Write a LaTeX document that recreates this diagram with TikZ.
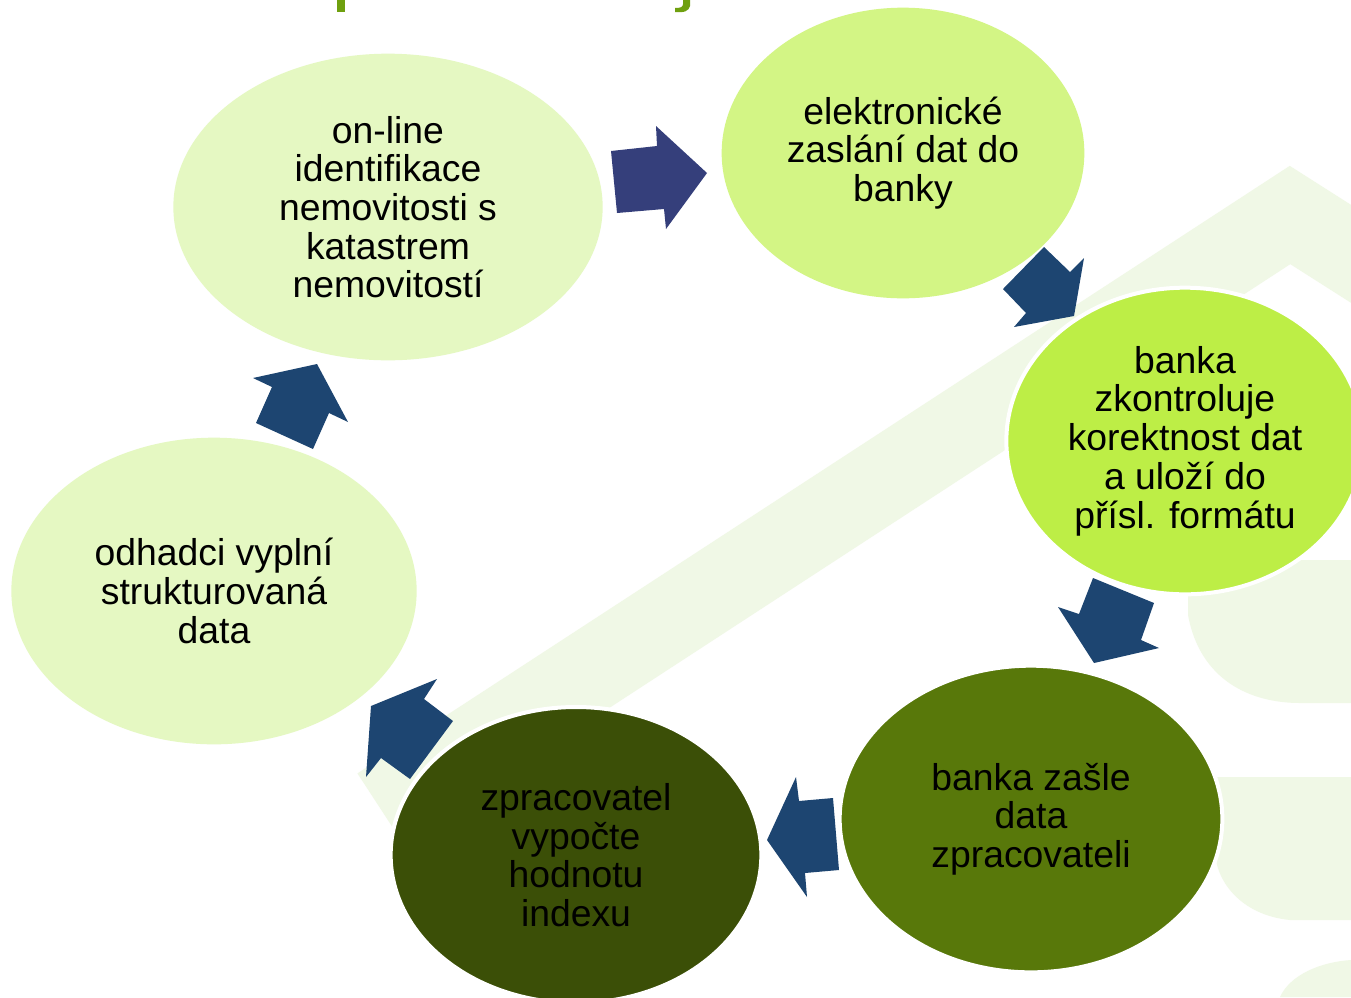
\documentclass[tikz,border=0pt]{standalone}
\usepackage{fontspec}
\setmainfont{Liberation Sans}
\usetikzlibrary{shapes.geometric}
\definecolor{eA}{HTML}{E5F8C2}
\definecolor{eB}{HTML}{D3F585}
\definecolor{eC}{HTML}{BDEE46}
\definecolor{eD}{HTML}{58780A}
\definecolor{eE}{HTML}{3B4F07}
\definecolor{arrA}{HTML}{353F7B}
\definecolor{arrB}{HTML}{1D4571}
\definecolor{wm}{HTML}{F0F8E6}
\definecolor{ttl}{HTML}{6FA00F}
\tikzset{
  bubble/.style={ellipse, inner sep=0pt, align=center, text=black,
    font=\fontsize{28}{29}\selectfont, draw=white, line width=3pt},
  blockarrow/.style={fill=arrB, draw=none},
  water/.style={fill=wm, draw=none}
}
\begin{document}
\begin{tikzpicture}[x=0.75pt,y=-0.75pt]
\useasboundingbox (0,0) rectangle (1351,997);
\clip (0,0) rectangle (1351,997);
\fill[white] (0,0) rectangle (1351,997);
% watermark
\draw[wm, line width=62pt, line join=miter] (380,808) -- (1290,215) -- (1400,285);
\fill[water] (1188,560) -- (1188,615) .. controls (1200,680) and (1250,703) .. (1300,703) -- (1351,703) -- (1351,560) -- cycle;
\fill[water] (1215,777) -- (1351,777) -- (1351,920) -- (1290,920) .. controls (1240,915) and (1215,880) .. (1215,850) -- cycle;
\fill[water] (1280,997) .. controls (1290,975) and (1320,962) .. (1351,960) -- (1351,997) -- cycle;
% title fragments
\fill[ttl] (337,0) rectangle (345,12);
\fill[ttl] (683,0) -- (690,0) -- (690,6) .. controls (689,11) and (684,13) .. (675,12) -- (675,8) .. controls (681,8) and (683,7) .. (683,4) -- cycle;
% bubbles
\node[bubble, fill=eA, draw=none, minimum width=322pt, minimum height=230pt] (n1) at (388,207) {on-line\\identifikace\\nemovitosti s\\katastrem\\nemovitostí};
\node[bubble, fill=eB, draw=none, minimum width=272pt, minimum height=218pt] (n2) at (903,153) {elektronické\\zaslání dat do\\banky};
\node[bubble, fill=eC, minimum width=268pt, minimum height=230pt] (n3) at (1185,441) {banka\\zkontroluje\\korektnost dat\\a uloží do\\přísl. formátu};
\node[bubble, fill=eD, minimum width=287pt, minimum height=230pt] (n4) at (1031,819) {banka zašle\\data\\zpracovateli};
\node[bubble, fill=eE, minimum width=278pt, minimum height=222pt] (n5) at (576,855) {zpracovatel\\vypočte\\hodnotu\\indexu};
\node[bubble, fill=eA, draw=none, minimum width=304pt, minimum height=230pt] (n6) at (214,591) {odhadci vyplní\\strukturovaná\\data};
% block arrows
\fill[arrA] (611,151) -- (657,146) -- (656,126) -- (707,173) -- (666,229) -- (664,209) -- (617,213) -- cycle;
\fill[blockarrow] (1044,247) -- (1070,272) -- (1084,258) -- (1074,316) -- (1014,327) -- (1026,313) -- (1003,289) -- cycle;
\fill[blockarrow] (1093,578) -- (1154,603) -- (1141,640) -- (1159,648) -- (1094,663) -- (1058,607) -- (1079,614) -- cycle;
\fill[blockarrow] (833,798) -- (839,870) -- (805,873) -- (807,897) -- (767,840) -- (796,777) -- (799,801) -- cycle;
\fill[blockarrow] (437,679) -- (424,699) -- (453,721) -- (410,779) -- (381,758) -- (366,777) -- (371,706) -- cycle;
\fill[blockarrow] (253,378) -- (317,364) -- (348,422) -- (329,413) -- (313,449) -- (256,423) -- (272,387) -- cycle;
\end{tikzpicture}
\end{document}
